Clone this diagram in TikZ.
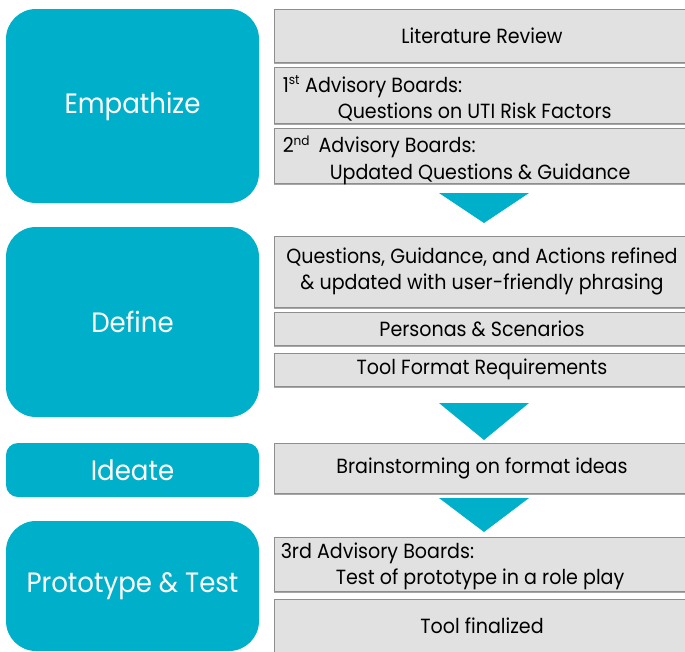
\documentclass[tikz,border=0pt]{standalone}
\usepackage{fontspec}
\setmainfont{Poppins}[FakeStretch=0.93]
\usetikzlibrary{shadows}
\definecolor{teal}{HTML}{00B0CA}
\definecolor{boxgray}{HTML}{E1E1E1}
\definecolor{linegray}{HTML}{8E8E8E}
\newcommand{\ordsup}[1]{\textsuperscript{\fontsize{13}{13}\selectfont #1}}

\begin{document}
\begin{tikzpicture}[x=1pt,y=-1pt,
    phase/.style={rectangle, rounded corners=30pt, fill=teal, text=white,
    minimum width=253pt, font=\fontsize{28}{32}\selectfont},
    task/.style={rectangle, draw=linegray, line width=0.9pt, fill=boxgray,
    minimum width=416pt, drop shadow={shadow xshift=0pt, shadow yshift=-1.6pt, opacity=0.35, fill=black}},
    arrowtri/.style={fill=teal}]
    \tikzstyle{every node}=[inner sep=0pt, font=\fontsize{20.5}{26.5}\selectfont]
    \useasboundingbox (0,0) rectangle (685,651);
    % phases
    \node[phase, minimum height=194pt] (emp) at (132.5,106) {Empathize};
    \node[phase, minimum height=190pt] (def) at (132.5,322) {Define};
    \node[phase, minimum height=54pt, rounded corners=12pt] (ide) at (132.5,470) {Ideate};
    \node[phase, minimum height=130pt] (pro) at (132.5,586) {Prototype \& Test};
    % tasks
    \node[task, minimum height=53pt] (lit) at (482,35.5) {Literature Review};
    \node[task, minimum height=56pt] (adv1) at (482,95) {};
    \node[task, minimum height=55pt] (adv2) at (482,155.5) {};
    \node[task, minimum height=71pt, align=center] (quest) at (482,271.5)
        {Questions, Guidance, and Actions refined\\\& updated with user-friendly phrasing};
    \node[task, minimum height=33pt] (pers) at (482,328.5) {Personas \& Scenarios};
    \node[task, minimum height=33pt] (fmt) at (482,369.5) {Tool Format Requirements};
    \node[task, minimum height=50pt] (brain) at (482,468) {Brainstorming on format ideas};
    \node[task, minimum height=54pt] (adv3) at (482,564) {};
    \node[task, minimum height=54pt] (fin) at (482,626) {Tool finalized};
    % two line texts
    \node[anchor=north west, align=left] (adv1txt) at ([xshift=9pt,yshift=-9pt]adv1.north west)
        {1\ordsup{st} Advisory Boards:\\\hspace*{55pt}Questions on UTI Risk Factors};
    \node[anchor=north west, align=left] (adv2txt) at ([xshift=9pt,yshift=-8pt]adv2.north west)
        {2\ordsup{nd}\, Advisory Boards:\\\hspace*{47pt}Updated Questions \& Guidance};
    \node[anchor=north west, align=left] (adv3txt) at ([xshift=7pt,yshift=-6pt]adv3.north west)
        {3rd Advisory Boards:\\\hspace*{55pt}Test of prototype in a role play};
    % arrows
    \fill[arrowtri] (439,193) -- (529,193) -- (484,223) -- cycle;
    \fill[arrowtri] (439,403) -- (529,403) -- (484,440) -- cycle;
    \fill[arrowtri] (439,498) -- (529,498) -- (484,532) -- cycle;
\end{tikzpicture}
\end{document}
